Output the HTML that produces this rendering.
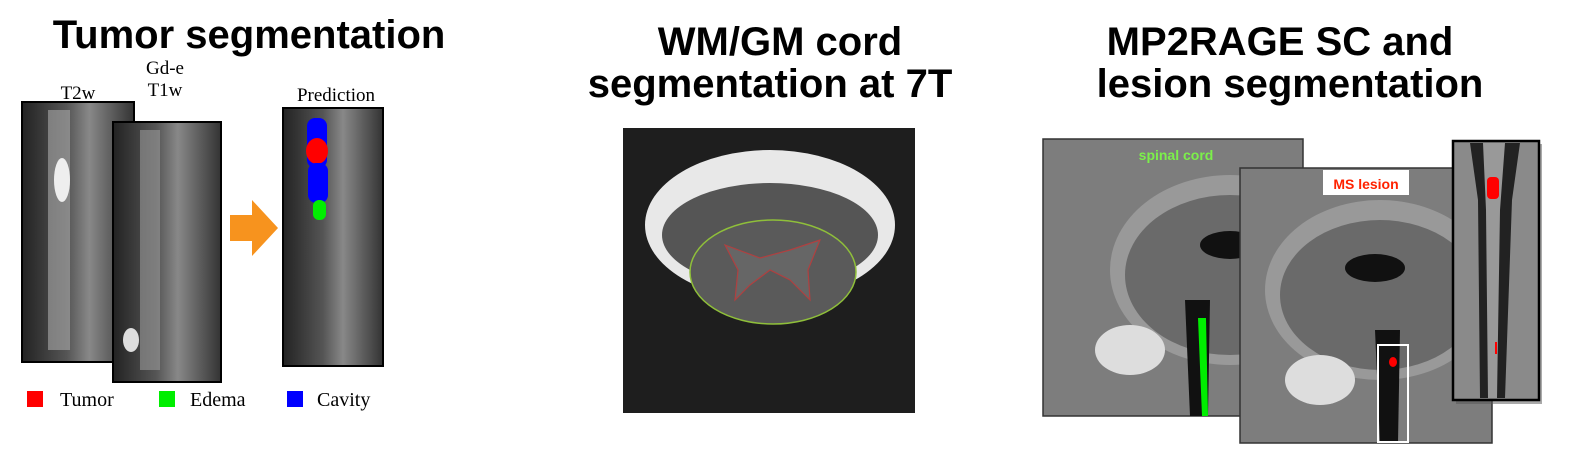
<!DOCTYPE html>
<html><head><meta charset="utf-8"><style>
body{margin:0;background:#fff;width:1580px;height:463px;overflow:hidden;font-family:"Liberation Sans",sans-serif}
</style></head><body>
<svg width="1580" height="463" xmlns="http://www.w3.org/2000/svg">
<defs>
<linearGradient id="spine" x1="0" x2="1"><stop offset="0" stop-color="#222"/><stop offset="0.4" stop-color="#555"/><stop offset="0.6" stop-color="#888"/><stop offset="1" stop-color="#333"/></linearGradient>
</defs>
<g font-weight="bold" font-size="40" text-anchor="middle" fill="#000">
<text x="249" y="48">Tumor segmentation</text>
<text x="780" y="55">WM/GM cord</text>
<text x="770" y="97">segmentation at 7T</text>
<text x="1280" y="55">MP2RAGE SC and</text>
<text x="1290" y="97">lesion segmentation</text>
</g>
<g font-family="Liberation Serif" font-size="19" text-anchor="middle" fill="#000">
<text x="78" y="99">T2w</text>
<text x="165" y="74">Gd-e</text>
<text x="165" y="96">T1w</text>
<text x="336" y="101">Prediction</text>
</g>
<g>
<rect x="22" y="102" width="112" height="260" fill="url(#spine)" stroke="#000" stroke-width="2"/>
<rect x="48" y="110" width="22" height="240" fill="#aaa" opacity="0.6"/>
<ellipse cx="62" cy="180" rx="8" ry="22" fill="#eee"/>
</g>
<g>
<rect x="113" y="122" width="108" height="260" fill="url(#spine)" stroke="#000" stroke-width="2"/>
<rect x="140" y="130" width="20" height="240" fill="#999" opacity="0.6"/>
<ellipse cx="131" cy="340" rx="8" ry="12" fill="#ddd"/>
</g>
<polygon points="230,215 252,215 252,200 278,228 252,256 252,241 230,241" fill="#f7931e"/>
<g>
<rect x="283" y="108" width="100" height="258" fill="url(#spine)" stroke="#000" stroke-width="2"/>
<rect x="307" y="118" width="20" height="50" rx="8" fill="#0000ff"/>
<ellipse cx="317" cy="151" rx="11" ry="13" fill="#ff0000"/>
<rect x="308" y="163" width="20" height="40" rx="8" fill="#0000ff"/>
<rect x="313" y="200" width="13" height="20" rx="6" fill="#00ee00"/>
</g>
<g font-family="Liberation Serif" font-size="20" fill="#000">
<rect x="27" y="391" width="16" height="16" fill="#ff0000"/>
<text x="60" y="406">Tumor</text>
<rect x="159" y="391" width="16" height="16" fill="#00ee00"/>
<text x="190" y="406">Edema</text>
<rect x="287" y="391" width="16" height="16" fill="#0000ff"/>
<text x="317" y="406">Cavity</text>
</g>
<g>
<rect x="623" y="128" width="292" height="285" fill="#1e1e1e"/>
<ellipse cx="770" cy="225" rx="125" ry="75" fill="#e8e8e8"/>
<ellipse cx="770" cy="235" rx="108" ry="52" fill="#555"/>
<ellipse cx="773" cy="272" rx="83" ry="52" fill="#5a5a5a" stroke="#8fbf3a" stroke-width="1.5"/>
<path d="M725,245 L760,258 L790,250 L820,240 L808,270 L810,300 L790,280 L770,270 L750,285 L735,300 L738,270 Z" fill="#666" stroke="#b04040" stroke-width="1.2"/>
</g>
<g>
<rect x="1043" y="139" width="260" height="277" fill="#7d7d7d" stroke="#333" stroke-width="1.5"/>
<ellipse cx="1230" cy="270" rx="120" ry="95" fill="#999"/>
<ellipse cx="1230" cy="275" rx="105" ry="80" fill="#6a6a6a"/>
<ellipse cx="1230" cy="245" rx="30" ry="14" fill="#111"/>
<path d="M1185,300 L1210,300 L1208,416 L1190,416 Z" fill="#111"/>
<ellipse cx="1130" cy="350" rx="35" ry="25" fill="#ddd"/>
<path d="M1198,318 L1206,318 L1208,416 L1202,416 Z" fill="#00ee00"/>
<text x="1176" y="160" font-size="14" font-weight="bold" fill="#7cf04a" text-anchor="middle">spinal cord</text>
</g>
<g>
<rect x="1240" y="168" width="252" height="275" fill="#7d7d7d" stroke="#333" stroke-width="1.5"/>
<ellipse cx="1380" cy="290" rx="115" ry="90" fill="#999"/>
<ellipse cx="1380" cy="295" rx="100" ry="75" fill="#6a6a6a"/>
<ellipse cx="1375" cy="268" rx="30" ry="14" fill="#111"/>
<path d="M1375,330 L1400,330 L1398,443 L1380,443 Z" fill="#111"/>
<ellipse cx="1320" cy="380" rx="35" ry="25" fill="#ddd"/>
<rect x="1323" y="170" width="86" height="25" fill="#fff"/>
<text x="1366" y="189" font-size="14" font-weight="bold" fill="#ff2200" text-anchor="middle">MS lesion</text>
<rect x="1378" y="345" width="30" height="97" fill="none" stroke="#fff" stroke-width="2"/>
<ellipse cx="1393" cy="362" rx="4" ry="5" fill="#ff0000"/>
</g>
<g>
<rect x="1456" y="144" width="86" height="260" fill="#555" opacity="0.5"/>
<rect x="1453" y="141" width="86" height="259" fill="#8a8a8a" stroke="#000" stroke-width="2.5"/>
<path d="M1470,143 L1520,143 L1512,200 L1505,398 L1480,398 L1478,200 Z" fill="#222"/>
<path d="M1483,143 L1505,143 L1500,210 L1497,398 L1488,398 L1486,210 Z" fill="#999"/>
<rect x="1487" y="177" width="12" height="22" rx="4" fill="#ff0000"/>
<rect x="1495" y="342" width="2" height="12" fill="#ff0000"/>
</g>
</svg>
</body></html>
